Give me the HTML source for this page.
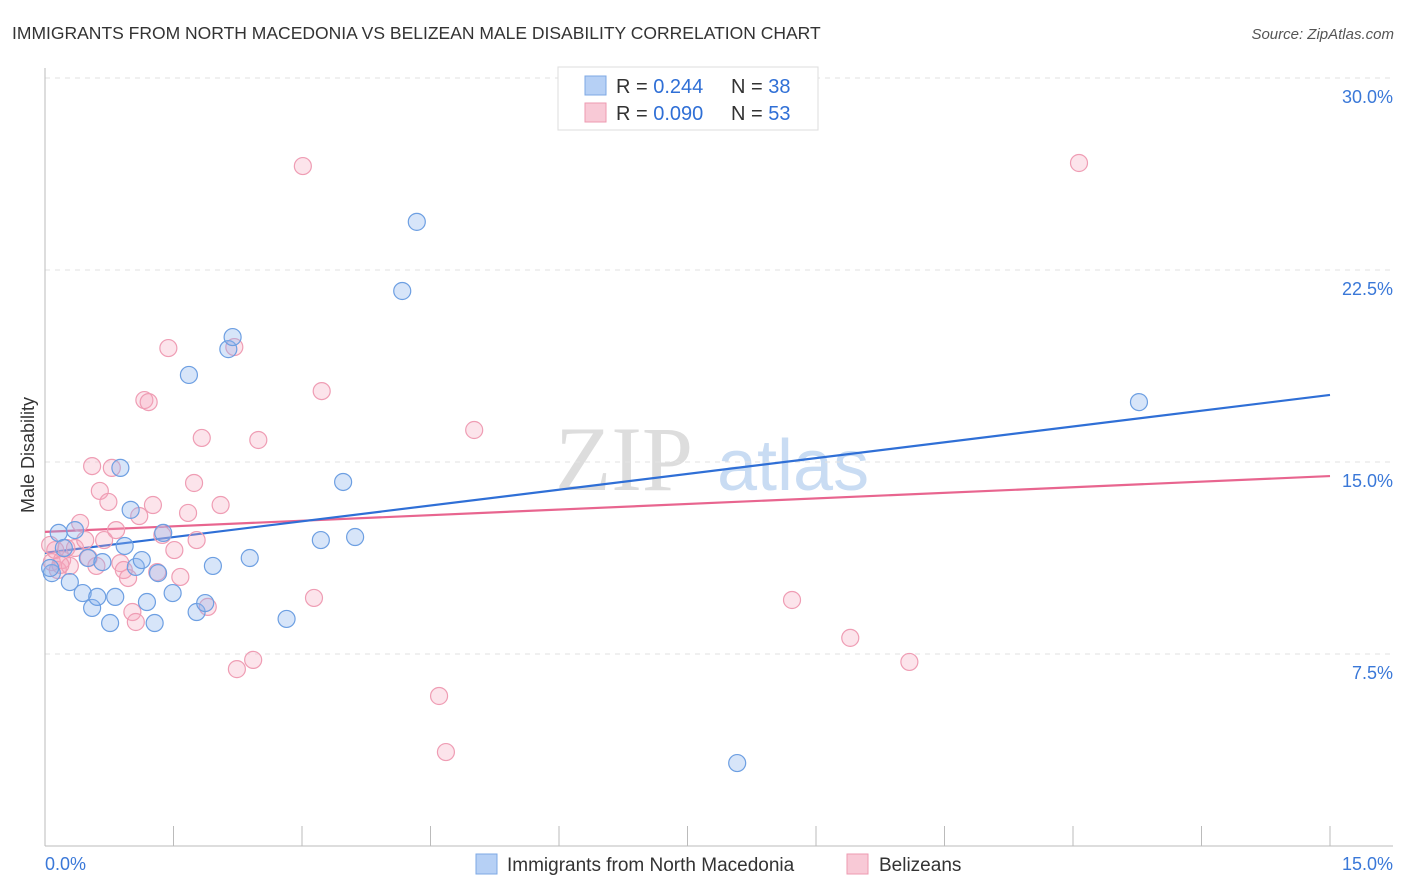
<!DOCTYPE html>
<html><head><meta charset="utf-8"><style>
body{margin:0;background:#fff;font-family:"Liberation Sans",sans-serif}
svg{display:block}
</style></head><body>
<svg id="chart" width="1406" height="892">
<text x="12" y="39" font-size="17.5" fill="#333">IMMIGRANTS FROM NORTH MACEDONIA VS BELIZEAN MALE DISABILITY CORRELATION CHART</text>
<text x="1394" y="39" font-size="15" fill="#555" font-style="italic" text-anchor="end">Source: ZipAtlas.com</text>
<g>
<text x="555" y="490" font-size="92" font-family="Liberation Serif,serif" fill="#ddd">ZIP</text>
<text x="717" y="490" font-size="72" fill="#c9dcf3">atlas</text>
</g>
<g id="grid"></g><g id="axes"></g><g id="trends"></g><g id="pts"></g>
<text x="34" y="455" font-size="18" fill="#333" transform="rotate(-90 34 455)" text-anchor="middle">Male Disability</text>
<g>
<rect x="558" y="67" width="260" height="63" fill="#fff" stroke="#ddd"/>
<rect x="585" y="76" width="21" height="19" fill="#b6d0f5" stroke="#7ea8e4"/>
<rect x="585" y="103" width="21" height="19" fill="#f8c9d6" stroke="#ee9ab0"/>
<text x="616" y="93" font-size="20" fill="#333">R = <tspan fill="#2f6fd6">0.244</tspan><tspan x="731">N = </tspan><tspan fill="#2f6fd6">38</tspan></text>
<text x="616" y="120" font-size="20" fill="#333">R = <tspan fill="#2f6fd6">0.090</tspan><tspan x="731">N = </tspan><tspan fill="#2f6fd6">53</tspan></text>
</g>
<g>
<rect x="476" y="854" width="21" height="20" fill="#b6d0f5" stroke="#7ea8e4"/>
<text x="507" y="871" font-size="19" fill="#333">Immigrants from North Macedonia</text>
<rect x="847" y="854" width="21" height="20" fill="#f8c9d6" stroke="#ee9ab0"/>
<text x="879" y="871" font-size="19" fill="#333">Belizeans</text>
</g>
</svg>
<script>
const blueX=[0.08,0.06,0.16,0.29,0.35,0.44,0.50,0.55,0.61,0.67,0.76,0.82,0.88,0.93,1.00,1.06,1.13,1.19,1.28,1.32,1.38,1.49,1.68,1.77,1.87,1.96,2.14,2.19,2.39,2.82,3.22,3.48,3.62,4.17,4.34,8.08,12.77,0.22];
const blueY=[10.66,10.86,12.23,10.31,12.34,9.88,11.25,9.30,9.73,11.09,8.71,9.73,14.77,11.72,13.13,10.90,11.17,9.53,8.71,10.66,12.23,9.88,18.40,9.14,9.49,10.94,19.41,19.88,11.25,8.87,11.95,14.22,12.07,21.68,24.38,3.24,17.34,11.64];
const pinkX=[0.08,0.12,0.15,0.20,0.25,0.29,0.35,0.41,0.47,0.51,0.55,0.60,0.64,0.69,0.74,0.78,0.83,0.88,0.92,0.97,1.02,1.06,1.10,1.16,1.21,1.26,1.31,1.37,1.44,1.51,1.58,1.67,1.74,1.77,1.83,1.90,2.05,2.21,2.24,2.43,2.49,3.01,3.14,3.23,4.60,4.68,5.01,8.72,9.40,10.09,12.07,0.06,0.18];
const pinkY=[11.09,11.56,10.78,11.17,11.64,10.94,11.64,12.62,11.95,11.25,14.84,10.94,13.87,11.95,13.44,14.77,12.34,11.05,10.78,10.47,9.14,8.75,12.89,17.42,17.34,13.32,10.70,12.15,19.45,11.56,10.51,13.01,14.18,11.95,15.94,9.34,13.32,19.49,6.91,7.27,15.86,26.56,9.69,17.77,5.86,3.67,16.25,9.61,8.13,7.19,26.68,11.76,10.98];
const blueTrend=[11.45,17.62];
const pinkTrend=[12.27,14.45];
const yTicks=[7.5,15,22.5,30];
const yTickLabels=["7.5%","15.0%","22.5%","30.0%"];
const xTickCount=10;
const NS="http://www.w3.org/2000/svg";
const X=v=>45+v/15*1285, Y=v=>846-v/7.5*192;
function mk(tag,attrs,parent){const e=document.createElementNS(NS,tag);for(const k in attrs)e.setAttribute(k,attrs[k]);document.getElementById(parent).appendChild(e);return e;}
yTicks.forEach((t,i)=>{
 const l=mk('line',{x1:45,x2:1393,y1:Y(t),y2:Y(t),stroke:'#e2e2e2','stroke-dasharray':'5,5'},'grid');
 
 
 const tx=mk('text',{x:1393,y:Y(t)+25,'font-size':18,fill:'#3a78d8','text-anchor':'end'},'grid');
 tx.textContent=yTickLabels[i];
 
 
});
let a=mk('line',{x1:45,x2:45,y1:68,y2:846,stroke:'#bbb'},'axes');


a=mk('line',{x1:45,x2:1393,y1:846,y2:846,stroke:'#bbb'},'axes');


for(let i=0;i<=xTickCount;i++){const xv=15*i/xTickCount;
 const t=mk('line',{x1:X(xv),x2:X(xv),y1:826,y2:846,stroke:'#bbb'},'axes');
 
 }
[[0,"0.0%",'start',45],[15,"15.0%",'end',1393]].forEach(d=>{
 const t=mk('text',{x:d[3],y:870,'font-size':18,fill:'#3a78d8','text-anchor':d[2]},'axes');t.textContent=d[1];
 
 });
function pts(xs,ys,fill,stroke,name){xs.forEach((x,i)=>{
 const c=mk('circle',{cx:X(x),cy:Y(ys[i]),r:8.5,fill:fill,stroke:stroke,'stroke-width':1.2},'pts');
 
 });}
pts(pinkX,pinkY,'rgba(245,165,188,0.3)','#ef9db4','point-belizeans');
pts(blueX,blueY,'rgba(140,180,238,0.35)','#6d9fe2','point-north-macedonia');
let tl=mk('line',{x1:X(0),x2:X(15),y1:Y(pinkTrend[0]),y2:Y(pinkTrend[1]),stroke:'#e8658f','stroke-width':2.2},'trends');


tl=mk('line',{x1:X(0),x2:X(15),y1:Y(blueTrend[0]),y2:Y(blueTrend[1]),stroke:'#2f6fd6','stroke-width':2.2},'trends');


</script>
</body></html>
